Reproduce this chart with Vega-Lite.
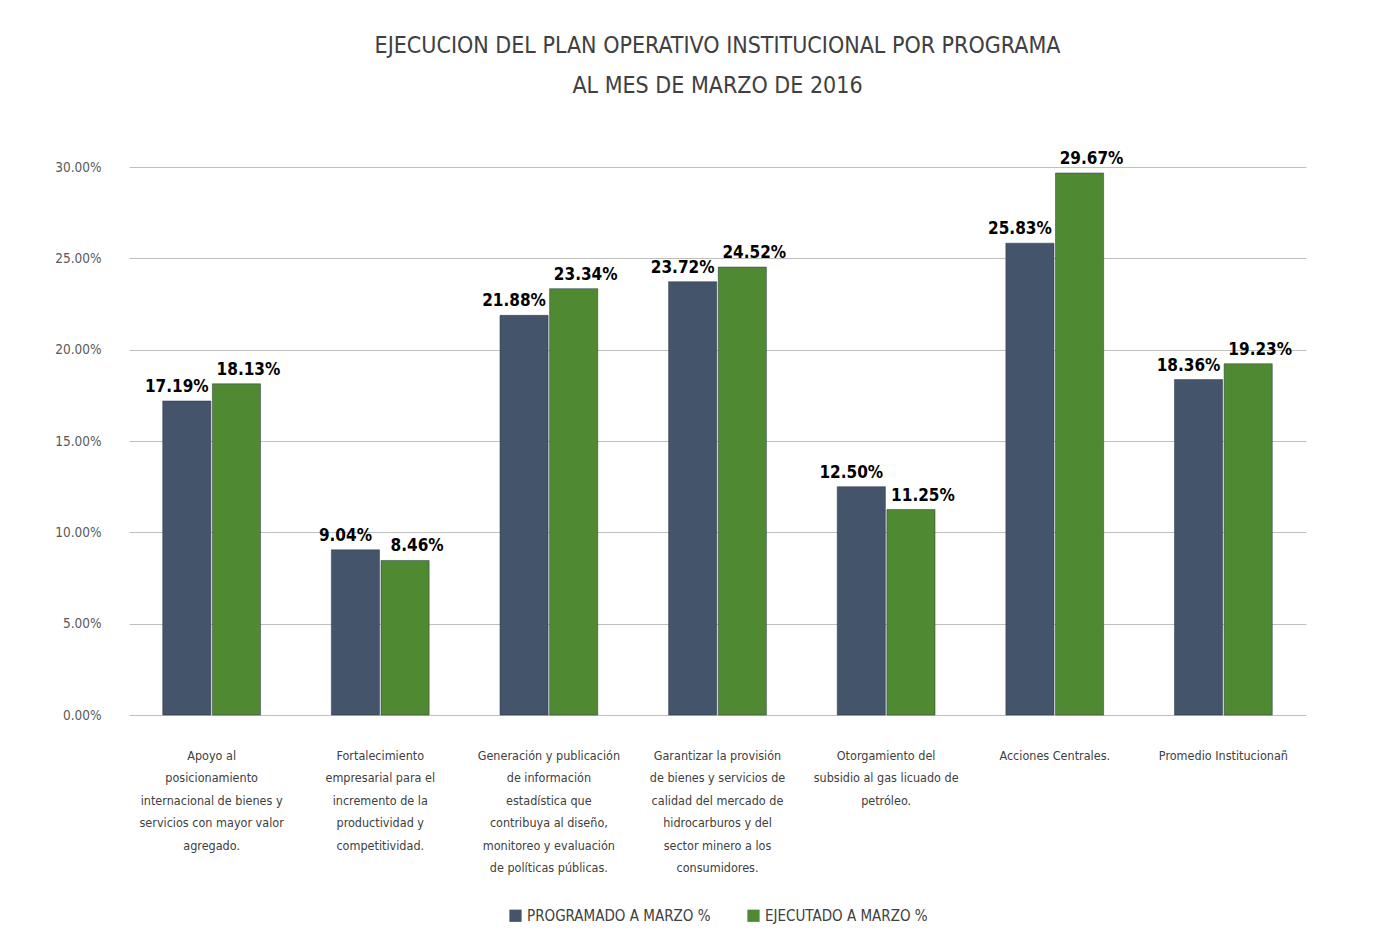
{
  "$schema": "https://vega.github.io/schema/vega-lite/v6.json",
  "autosize": {"type": "fit", "contains": "padding"},
  "width": 1394,
  "height": 948,
  "padding": {"left": 54, "right": 88, "top": 39, "bottom": 24},
  "background": "white",
  "title": {
    "text": ["EJECUCION DEL PLAN OPERATIVO INSTITUCIONAL POR PROGRAMA", "AL MES DE MARZO DE 2016"],
    "font": "DejaVu Sans Condensed, Liberation Sans, sans-serif",
    "fontSize": 23,
    "fontWeight": "normal",
    "color": "#404040",
    "lineHeight": 40,
    "anchor": "middle",
    "offset": 52
  },
  "config": {
    "view": {"stroke": null},
    "font": "DejaVu Sans Condensed, Liberation Sans, sans-serif",
    "legend": {"layout": {"bottom": {"anchor": "middle"}}}
  },
  "data": {
    "values": [
      {"programa": "Apoyo al|posicionamiento|internacional de bienes y|servicios con mayor valor|agregado.", "serie": "Programado a Marzo %", "valor": 0.1719},
      {"programa": "Apoyo al|posicionamiento|internacional de bienes y|servicios con mayor valor|agregado.", "serie": "Ejecutado a Marzo %", "valor": 0.1813},
      {"programa": "Fortalecimiento|empresarial para el|incremento de la|productividad y|competitividad.", "serie": "Programado a Marzo %", "valor": 0.0904},
      {"programa": "Fortalecimiento|empresarial para el|incremento de la|productividad y|competitividad.", "serie": "Ejecutado a Marzo %", "valor": 0.0846},
      {"programa": "Generación y publicación|de información|estadística que|contribuya al diseño,|monitoreo y evaluación|de políticas públicas.", "serie": "Programado a Marzo %", "valor": 0.2188},
      {"programa": "Generación y publicación|de información|estadística que|contribuya al diseño,|monitoreo y evaluación|de políticas públicas.", "serie": "Ejecutado a Marzo %", "valor": 0.2334},
      {"programa": "Garantizar la provisión|de bienes y servicios de|calidad del mercado de|hidrocarburos y del|sector minero a los|consumidores.", "serie": "Programado a Marzo %", "valor": 0.2372},
      {"programa": "Garantizar la provisión|de bienes y servicios de|calidad del mercado de|hidrocarburos y del|sector minero a los|consumidores.", "serie": "Ejecutado a Marzo %", "valor": 0.2452},
      {"programa": "Otorgamiento del|subsidio al gas licuado de|petróleo.", "serie": "Programado a Marzo %", "valor": 0.125},
      {"programa": "Otorgamiento del|subsidio al gas licuado de|petróleo.", "serie": "Ejecutado a Marzo %", "valor": 0.1125},
      {"programa": "Acciones Centrales.", "serie": "Programado a Marzo %", "valor": 0.2583},
      {"programa": "Acciones Centrales.", "serie": "Ejecutado a Marzo %", "valor": 0.2967},
      {"programa": "Promedio Institucionañ", "serie": "Programado a Marzo %", "valor": 0.1836},
      {"programa": "Promedio Institucionañ", "serie": "Ejecutado a Marzo %", "valor": 0.1923}
    ]
  },
  "encoding": {
    "x": {
      "field": "programa",
      "type": "nominal",
      "sort": null,
      "title": null,
      "scale": {"paddingInner": 0.42, "paddingOuter": 0.2},
      "axis": {
        "labelAngle": 0,
        "labelExpr": "split(datum.label, '|')",
        "labelFontSize": 12.5,
        "labelLineHeight": 22.5,
        "labelColor": "#404040",
        "labelPadding": 34,
        "labelLimit": 200,
        "domain": false,
        "ticks": false
      }
    },
    "xOffset": {"field": "serie", "type": "nominal", "sort": ["Programado a Marzo %", "Ejecutado a Marzo %"], "scale": {"paddingInner": 0.03}},
    "y": {
      "field": "valor",
      "type": "quantitative",
      "title": null,
      "scale": {"domain": [0, 0.3]},
      "axis": {
        "format": ".2%",
        "values": [0, 0.05, 0.1, 0.15, 0.2, 0.25, 0.3],
        "labelFontSize": 13.5,
        "labelColor": "#595959",
        "labelPadding": 28,
        "domain": false,
        "ticks": false,
        "gridColor": "#BFBFBF",
        "gridWidth": 1.2
      }
    }
  },
  "layer": [
    {
      "mark": {"type": "bar", "stroke": "#2b3646", "strokeWidth": 0.5},
      "encoding": {
        "color": {
          "field": "serie",
          "type": "nominal",
          "sort": ["Programado a Marzo %", "Ejecutado a Marzo %"],
          "scale": {"domain": ["Programado a Marzo %", "Ejecutado a Marzo %"], "range": ["#44546A", "#4F8A33"]},
          "legend": {
            "orient": "bottom",
            "direction": "horizontal",
            "title": null,
            "symbolType": "square",
            "symbolSize": 150,
            "symbolStrokeWidth": 0,
            "labelFontSize": 15,
            "labelColor": "#404040",
            "labelLimit": 400,
            "labelExpr": "upper(datum.label)",
            "columnPadding": 35,
            "offset": 34
          }
        }
      }
    },
    {
      "transform": [{"filter": "datum.serie == 'Programado a Marzo %'"}],
      "mark": {"type": "text", "dy": -14, "dx": -10, "fontSize": 17, "fontWeight": "bold", "color": "#000000"},
      "encoding": {
        "text": {"field": "valor", "type": "quantitative", "format": ".2%"}
      }
    },
    {
      "transform": [{"filter": "datum.serie == 'Ejecutado a Marzo %'"}],
      "mark": {"type": "text", "dy": -14, "dx": 12, "fontSize": 17, "fontWeight": "bold", "color": "#000000"},
      "encoding": {
        "text": {"field": "valor", "type": "quantitative", "format": ".2%"}
      }
    }
  ]
}
